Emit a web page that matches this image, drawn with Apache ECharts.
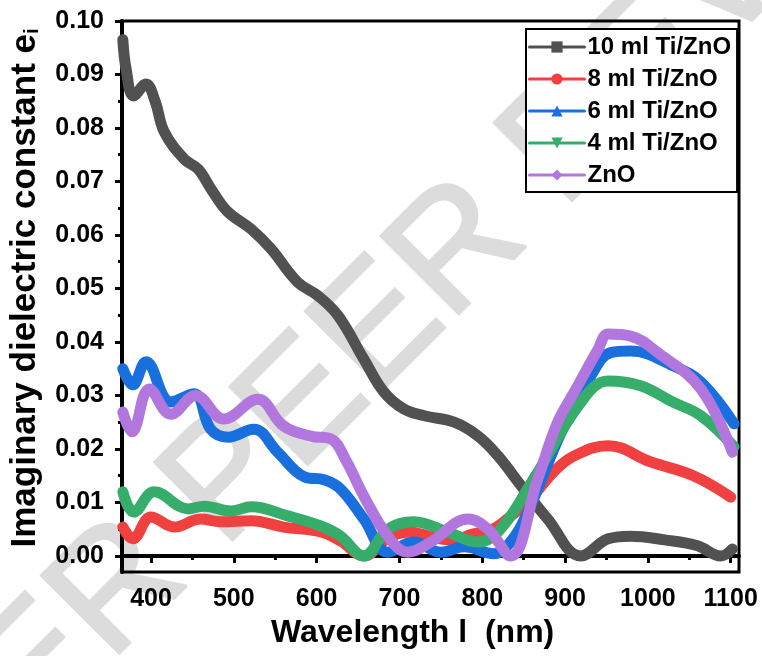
<!DOCTYPE html>
<html>
<head>
<meta charset="utf-8">
<script src="https://cdn.jsdelivr.net/npm/echarts@6/dist/echarts.min.js"></script>
<style>
  html, body { margin: 0; padding: 0; background: #fff; }
  #chart { width: 762px; height: 656px; }
</style>
</head>
<body>
<div id="chart"></div>
<script>
// values: wavelength (nm) and imaginary dielectric constant
const ti10Wave = [366, 370, 379, 394, 405, 416, 440, 457, 475, 493, 521, 545, 577, 602, 626, 657, 681, 705, 730, 766, 795, 819, 847, 879, 919, 952, 979, 1020, 1060, 1088, 1102];
const ti10Eps  = [0.0965, 0.091, 0.086, 0.0882, 0.085, 0.0793, 0.0742, 0.0723, 0.068, 0.0643, 0.0611, 0.0574, 0.0512, 0.0486, 0.0449, 0.0368, 0.0307, 0.0275, 0.0262, 0.025, 0.0224, 0.0187, 0.0131, 0.0069, 0.0, 0.0032, 0.0037, 0.003, 0.0019, 0.0, 0.0013];

const ti8Wave = [366, 378, 400, 428, 460, 484, 521, 560, 605, 629, 657, 685, 712, 740, 765, 786, 810, 831, 860, 886, 911, 952, 1003, 1055, 1100];
const ti8Eps  = [0.0054, 0.0032, 0.0073, 0.0054, 0.0069, 0.0064, 0.0066, 0.0054, 0.0045, 0.0028, 0.0, 0.0032, 0.0045, 0.0035, 0.003, 0.004, 0.0048, 0.007, 0.011, 0.0157, 0.0187, 0.0206, 0.0176, 0.015, 0.011];

const ti6Wave = [366, 378, 394, 424, 452, 472, 493, 524, 553, 585, 610, 629, 657, 686, 717, 750, 778, 814, 834, 855, 895, 931, 955, 979, 1031, 1064, 1104];
const ti6Eps  = [0.035, 0.032, 0.0363, 0.0288, 0.0303, 0.0237, 0.0222, 0.0237, 0.0194, 0.0148, 0.0142, 0.0125, 0.0069, 0.0007, 0.0026, 0.0007, 0.0017, 0.0004, 0.0026, 0.0082, 0.023, 0.0336, 0.038, 0.0383, 0.0355, 0.0325, 0.0247];

const ti4Wave = [366, 379, 404, 445, 464, 497, 521, 565, 605, 629, 657, 686, 717, 758, 795, 822, 862, 919, 952, 991, 1031, 1064, 1104];
const ti4Eps  = [0.012, 0.0082, 0.012, 0.0088, 0.0093, 0.0084, 0.0092, 0.0075, 0.0056, 0.0037, 0.0, 0.005, 0.0064, 0.0045, 0.0026, 0.005, 0.0144, 0.0287, 0.0327, 0.0318, 0.0287, 0.0262, 0.0204];

const znoWave = [366, 377, 398, 424, 454, 488, 529, 560, 593, 617, 635, 657, 686, 710, 738, 783, 807, 834, 867, 891, 911, 940, 952, 979, 1012, 1064, 1102];
const znoEps  = [0.0269, 0.0232, 0.0312, 0.0265, 0.03, 0.0256, 0.0293, 0.0243, 0.0224, 0.0219, 0.018, 0.0112, 0.0037, 0.0007, 0.0026, 0.0069, 0.005, 0.0, 0.0144, 0.025, 0.0306, 0.0387, 0.0415, 0.0411, 0.038, 0.0312, 0.0194];

const xMajor = [400, 500, 600, 700, 800, 900, 1000, 1100];
const xMinor = [450, 550, 650, 750, 850, 950, 1050];
const yMajor = [0, 0.01, 0.02, 0.03, 0.04, 0.05, 0.06, 0.07, 0.08, 0.09, 0.10];
const yMinor = [0.005, 0.015, 0.025, 0.035, 0.045, 0.055, 0.065, 0.075, 0.085, 0.095];

const seriesDefs = [
  { name: '10 ml Ti/ZnO', wave: ti10Wave, eps: ti10Eps, color: '#515151', symbol: 'rect' },
  { name: '8 ml Ti/ZnO', wave: ti8Wave, eps: ti8Eps, color: '#f14040', symbol: 'circle' },
  { name: '6 ml Ti/ZnO', wave: ti6Wave, eps: ti6Eps, color: '#1a6fdf', symbol: 'triangle' },
  { name: '4 ml Ti/ZnO', wave: ti4Wave, eps: ti4Eps, color: '#37ad6b', symbol: 'path://M0,0 L10,0 L5,9 Z' },
  { name: 'ZnO', wave: znoWave, eps: znoEps, color: '#b177de', symbol: 'diamond' },
];

const FONT = '"Liberation Sans", Arial, sans-serif';
const xMin = 365, xMax = 1110, yMin = -0.003, yMax = 0.10;

const chart = echarts.init(document.getElementById('chart'), null, { renderer: 'canvas' });

const option = {
  backgroundColor: '#fff',
  animation: false,
  grid: {
    left: 122, right: 23, top: 21, bottom: 84,
    show: true, borderColor: '#000', borderWidth: 3,
  },
  legend: {
    orient: 'vertical',
    left: 526, top: 29,
    padding: [6, 6, 5, 2],
    borderColor: '#000', borderWidth: 2,
    backgroundColor: '#fff',
    itemWidth: 55, itemHeight: 14, itemGap: 8,
    lineStyle: { width: 3 },
    textStyle: { fontFamily: FONT, fontWeight: 'bold', fontSize: 24, color: '#000', lineHeight: 24, padding: [0, 0, 0, -2] },
    data: seriesDefs.map(s => s.name),
  },
  xAxis: [
    {
      type: 'value', min: xMin, max: xMax,
      axisLine: { show: true, lineStyle: { color: '#000', width: 4 } },
      axisTick: { show: true, length: 7, lineStyle: { width: 3, color: '#000' }, customValues: xMajor },
      axisLabel: {
        customValues: xMajor, margin: 15, fontFamily: FONT, fontWeight: 'bold', fontSize: 25, color: '#000',
        formatter: v => String(v),
      },
      splitLine: { show: false },
    },
    {
      type: 'value', min: xMin, max: xMax, position: 'bottom',
      axisLine: { show: false },
      axisTick: { show: true, length: 4, lineStyle: { width: 3, color: '#000' }, customValues: xMinor },
      axisLabel: { show: false },
      splitLine: { show: false },
    },
  ],
  yAxis: [
    {
      type: 'value', min: yMin, max: yMax,
      axisLine: { show: true, lineStyle: { color: '#000', width: 4 } },
      axisTick: { show: true, length: 7, lineStyle: { width: 3, color: '#000' }, customValues: yMajor },
      axisLabel: {
        customValues: yMajor, margin: 18, fontFamily: FONT, fontWeight: 'bold', fontSize: 25, color: '#000',
        formatter: v => v.toFixed(2),
      },
      splitLine: { show: false },
    },
    {
      type: 'value', min: yMin, max: yMax, position: 'left',
      axisLine: { show: false },
      axisTick: { show: true, length: 4, lineStyle: { width: 3, color: '#000' }, customValues: yMinor },
      axisLabel: { show: false },
      splitLine: { show: false },
    },
  ],
  graphic: [
    // faint review watermark behind the plot
    {
      type: 'text', x: 368, y: 342, rotation: Math.PI / 4, z: -10, silent: true,
      style: {
        text: 'UNDER PEER REVIEW', align: 'center', verticalAlign: 'middle',
        fontFamily: FONT, fontSize: 160, fill: '#dcdcdc',
        stroke: '#dcdcdc', lineWidth: 3, lineJoin: 'round',
      },
    },
    {
      type: 'text', left: 271, top: 617,
      style: { text: 'Wavelength l  (nm)', fontFamily: FONT, fontWeight: 'bold', fontSize: 32, fill: '#000' },
    },
    {
      type: 'text', x: 43, y: 288, rotation: Math.PI / 2,
      style: {
        text: '{m|Imaginary dielectric constant e}{s|i}',
        align: 'center', verticalAlign: 'bottom',
        rich: {
          m: { fontFamily: FONT, fontWeight: 'bold', fontSize: 35, fill: '#000' },
          s: { fontFamily: FONT, fontWeight: 'bold', fontSize: 20, fill: '#000', padding: [14, 0, 0, 0] },
        },
      },
    },
  ],
  series: seriesDefs.map(s => ({
    name: s.name,
    type: 'line',
    xAxisIndex: 0, yAxisIndex: 0,
    data: s.wave.map((w, i) => [w, s.eps[i]]),
    smooth: 0.4,
    symbol: s.symbol,
    symbolSize: 14,
    showSymbol: false,
    color: s.color,
    lineStyle: { width: 11, color: s.color, cap: 'round', join: 'round' },
    emphasis: { disabled: true },
  })),
};

chart.setOption(option);
</script>
</body>
</html>
